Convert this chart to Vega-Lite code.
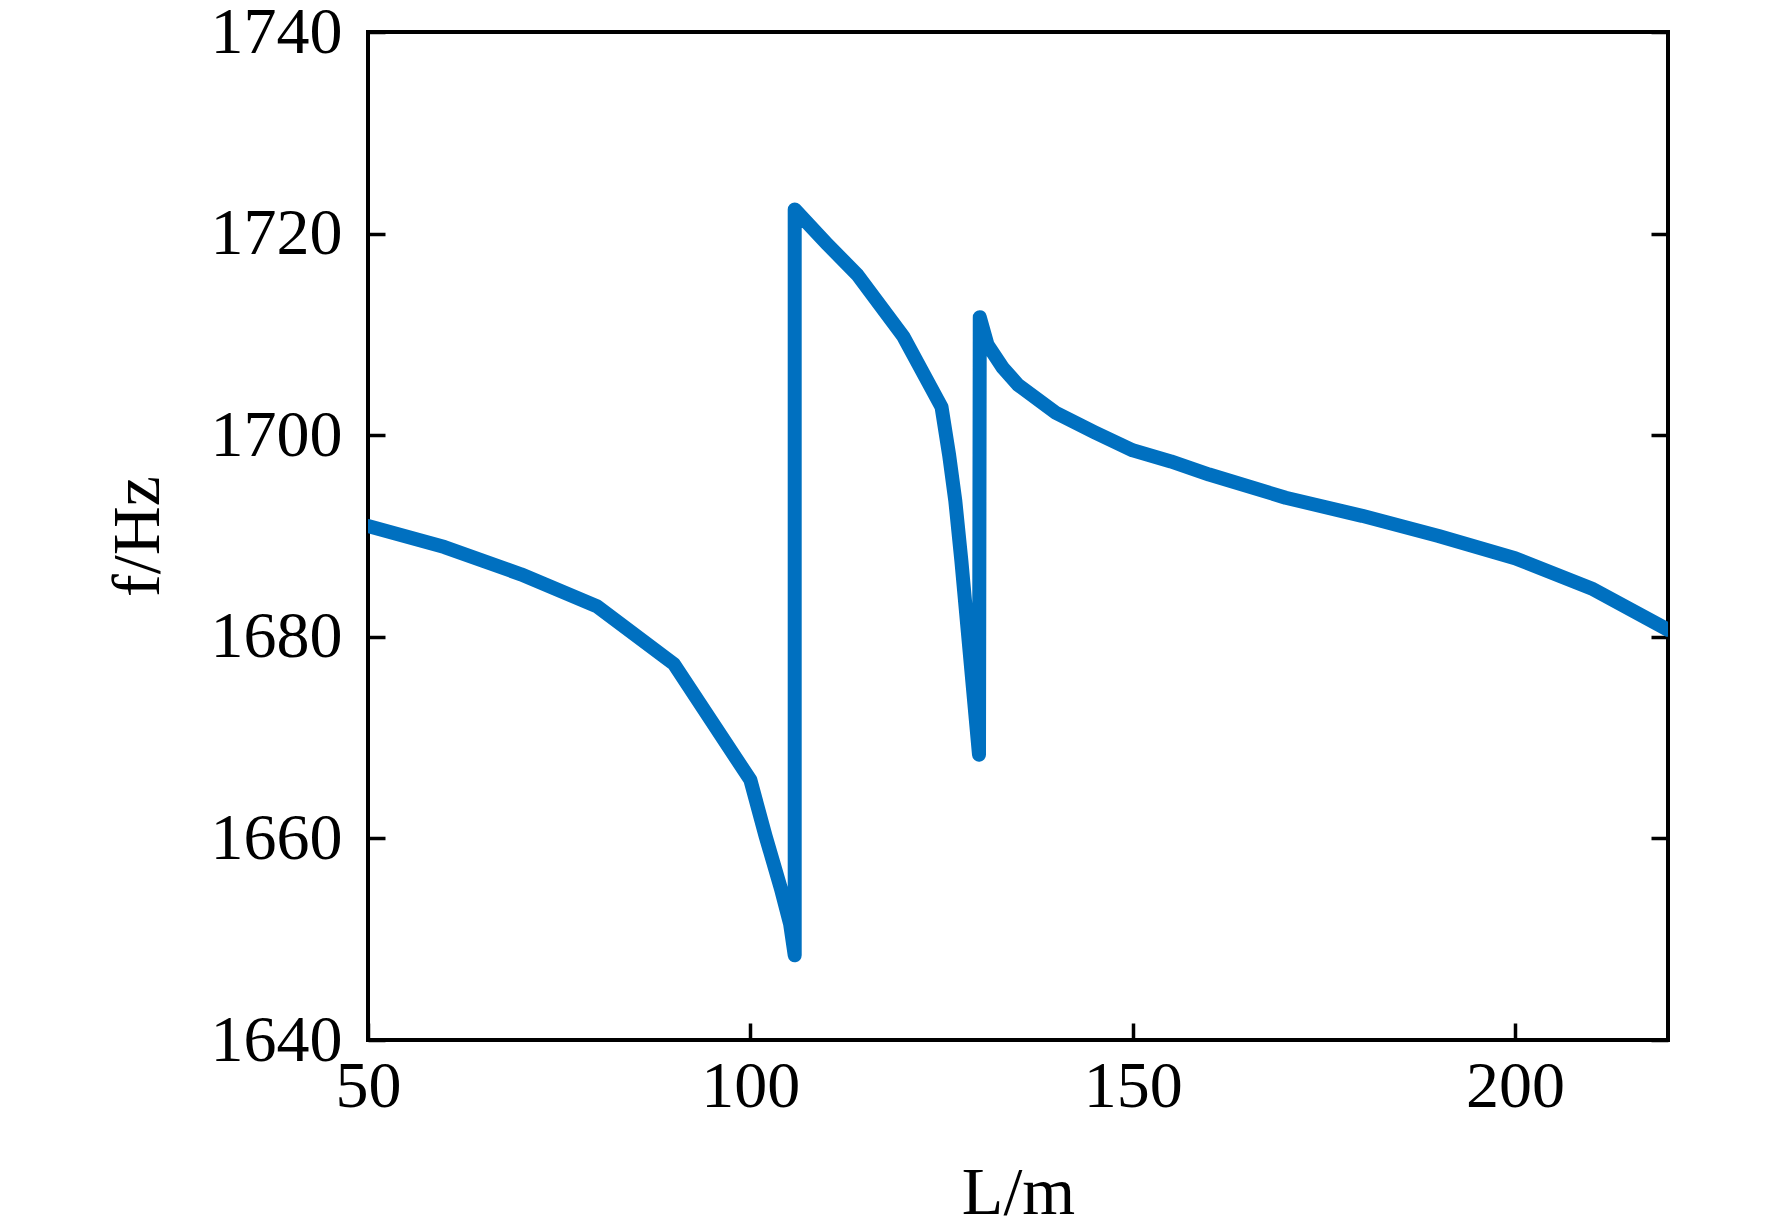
{
  "$schema": "https://vega.github.io/schema/vega-lite/v6.json",
  "autosize": "none",
  "width": 1300,
  "height": 1008,
  "padding": {"left": 368, "top": 32, "right": 104, "bottom": 187},
  "background": "white",
  "config": {
    "view": {"stroke": "black", "strokeWidth": 4},
    "font": "Liberation Serif",
    "axis": {
      "grid": false,
      "domain": false,
      "ticks": true,
      "tickColor": "black",
      "tickWidth": 3.5,
      "tickSize": -17,
      "format": "d",
      "labelFlush": false,
      "labelOverlap": false,
      "labelFont": "Liberation Serif",
      "labelFontSize": 66,
      "labelColor": "black",
      "titleFont": "Liberation Serif",
      "titleFontSize": 68,
      "titleFontWeight": "normal",
      "titleColor": "black"
    }
  },
  "data": {
    "values": [
      {"i": 1, "L": 50, "f": 1691.0},
      {"i": 2, "L": 60, "f": 1688.9},
      {"i": 3, "L": 70, "f": 1686.2},
      {"i": 4, "L": 80, "f": 1683.0},
      {"i": 5, "L": 90, "f": 1677.3},
      {"i": 6, "L": 100, "f": 1665.8},
      {"i": 7, "L": 102, "f": 1660.2},
      {"i": 8, "L": 104, "f": 1655.0},
      {"i": 9, "L": 105.2, "f": 1651.5},
      {"i": 10, "L": 105.8, "f": 1648.4},
      {"i": 11, "L": 105.8, "f": 1722.4},
      {"i": 12, "L": 110, "f": 1719.0},
      {"i": 13, "L": 114, "f": 1715.9},
      {"i": 14, "L": 120, "f": 1709.8},
      {"i": 15, "L": 125, "f": 1702.8},
      {"i": 16, "L": 126, "f": 1698.0},
      {"i": 17, "L": 126.8, "f": 1693.5},
      {"i": 18, "L": 127.6, "f": 1687.5},
      {"i": 19, "L": 128.5, "f": 1680.0},
      {"i": 20, "L": 129.9, "f": 1668.3},
      {"i": 21, "L": 130.0, "f": 1711.7},
      {"i": 22, "L": 131, "f": 1709.0},
      {"i": 23, "L": 133, "f": 1706.7},
      {"i": 24, "L": 135, "f": 1705.0},
      {"i": 25, "L": 140, "f": 1702.2},
      {"i": 26, "L": 145, "f": 1700.3},
      {"i": 27, "L": 150, "f": 1698.5},
      {"i": 28, "L": 155, "f": 1697.4},
      {"i": 29, "L": 160, "f": 1696.1},
      {"i": 30, "L": 170, "f": 1693.8},
      {"i": 31, "L": 180, "f": 1692.0},
      {"i": 32, "L": 190, "f": 1690.0},
      {"i": 33, "L": 200, "f": 1687.8},
      {"i": 34, "L": 210, "f": 1684.8},
      {"i": 35, "L": 220, "f": 1680.7}
    ]
  },
  "encoding": {
    "x": {
      "field": "L",
      "type": "quantitative",
      "scale": {"domain": [50, 220], "nice": false, "zero": false},
      "axis": {
        "values": [50, 100, 150, 200],
        "title": "L/m",
        "labelPadding": 31,
        "titlePadding": 40
      }
    },
    "order": {"field": "i", "type": "quantitative"}
  },
  "layer": [
    {
      "mark": {"type": "line", "color": "#0070C0", "strokeWidth": 14, "strokeCap": "round", "strokeJoin": "round", "clip": true},
      "encoding": {
        "y": {
          "field": "f",
          "type": "quantitative",
          "scale": {"domain": [1640, 1740], "nice": false, "zero": false},
          "axis": {
            "values": [1640, 1660, 1680, 1700, 1720, 1740],
            "title": "f/Hz",
            "labelPadding": 43,
            "titlePadding": 38
          }
        }
      }
    },
    {
      "mark": {"type": "line", "strokeOpacity": 0},
      "encoding": {
        "y": {
          "field": "f",
          "type": "quantitative",
          "axis": {
            "orient": "right",
            "values": [1640, 1660, 1680, 1700, 1720, 1740],
            "labels": false,
            "title": null
          }
        }
      }
    }
  ],
  "resolve": {"axis": {"y": "independent"}}
}
